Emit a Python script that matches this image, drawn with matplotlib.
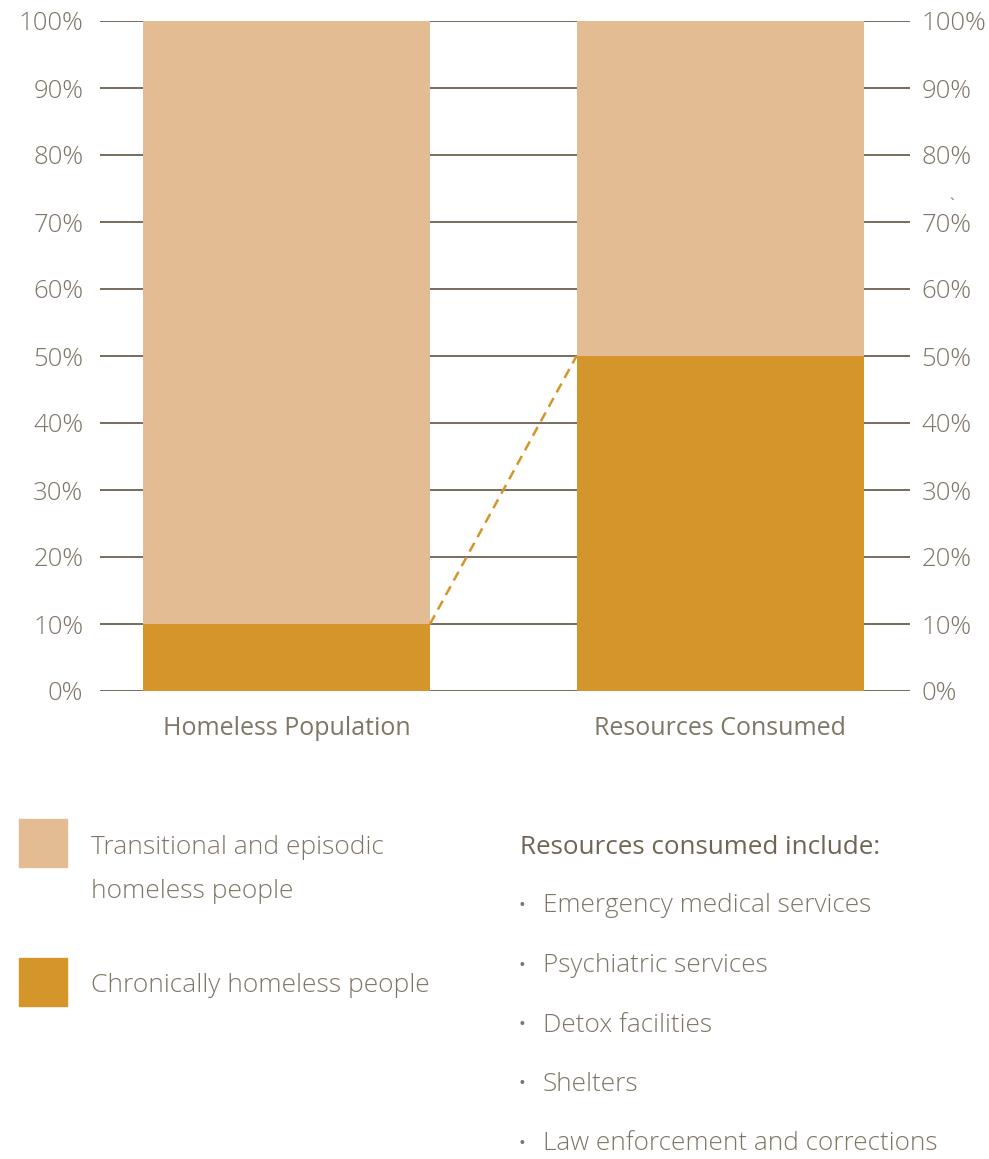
import matplotlib.pyplot as plt
from matplotlib.patches import Rectangle

##################################################
# Data

categories = ['Homeless Population', 'Resources Consumed']
chronic = [10, 50]
transitional = [90, 50]
y_ticks = [0, 10, 20, 30, 40, 50, 60, 70, 80, 90, 100]
legend_labels = ['Transitional and episodic\nhomeless people', 'Chronically homeless people']
resources = ['Emergency medical services', 'Psychiatric services', 'Detox facilities',
             'Shelters', 'Law enforcement and corrections']

LIGHT = '#E4BC94'
DARK = '#D4952A'
TEXT = '#7f7666'
GRID = '#6b6150'

plt.rcParams['font.family'] = ['Open Sans', 'DejaVu Sans']

##################################################
# Chart

fig = plt.figure(figsize=(9.89, 11.59), dpi=100)
ax = fig.add_axes([100 / 989, 1 - 691 / 1159, 810 / 989, 670 / 1159])

x = [0, 1]
w = 0.662
ax.bar(x, chronic, width=w, color=DARK, zorder=2)
ax.bar(x, transitional, width=w, bottom=chronic, color=LIGHT, zorder=2)

# dashed connector between the chronic tops
ax.plot([x[0] + w / 2, x[1] - w / 2], [chronic[0], chronic[1]], color=DARK,
        lw=1.8, ls=(0, (4, 2.6)), zorder=3)

ax.set_xlim(-0.430, 1.438)
ax.set_ylim(0, 100)
ax.set_yticks(y_ticks)
ax.set_yticklabels([f'{v}%' for v in y_ticks])
ax.set_xticks(x)
ax.set_xticklabels(categories)
ax.grid(axis='y', color=GRID, lw=1.3, zorder=1)
ax.set_axisbelow(True)
for s in ax.spines.values():
    s.set_visible(False)
ax.tick_params(axis='y', length=0, pad=12, labelsize=18.5, labelcolor=TEXT,
               labelright=True, right=False)
for lab in ax.get_yticklabels():
    lab.set_fontweight('light')
ax.tick_params(axis='x', length=0, pad=18, labelsize=18, labelcolor=TEXT)

# left labels a bit further from the grid than the right ones
for t in ax.yaxis.get_major_ticks():
    t.set_pad(12)
    t.label2.set_x(1.0 - 5 / 810)

##################################################
# Legend and notes

def fx(px):
    return px / 989

def fy(py):
    return 1 - py / 1159

fig.add_artist(Rectangle((fx(19), fy(867)), 48 / 989, 48 / 1159,
                         transform=fig.transFigure, color=LIGHT))
fig.add_artist(Rectangle((fx(19), fy(1006)), 48 / 989, 48 / 1159,
                         transform=fig.transFigure, color=DARK))
fig.text(fx(91), fy(847), 'Transitional and episodic', color=TEXT, fontsize=19,
         va='center', ha='left', fontweight='light')
fig.text(fx(91), fy(891), 'homeless people', color=TEXT, fontsize=19,
         va='center', ha='left', fontweight='light')
fig.text(fx(91), fy(985), legend_labels[1], color=TEXT, fontsize=19,
         va='center', ha='left', fontweight='light')

fig.text(fx(520), fy(847), 'Resources consumed include:', color='#6f6552', fontsize=18.7,
         va='center', ha='left')
for i, r in enumerate(resources):
    yy = fy(906 + i * 59.5)
    fig.text(fx(518), yy, '•', color=TEXT, fontsize=13, va='center', ha='left')
    fig.text(fx(543), yy, r, color=TEXT, fontsize=18.8, va='center', ha='left',
             fontweight='light')

fig.text(fx(952), fy(206), '`', color=TEXT, fontsize=12, va='center', ha='center')

fig.savefig('out.png', dpi=100)
